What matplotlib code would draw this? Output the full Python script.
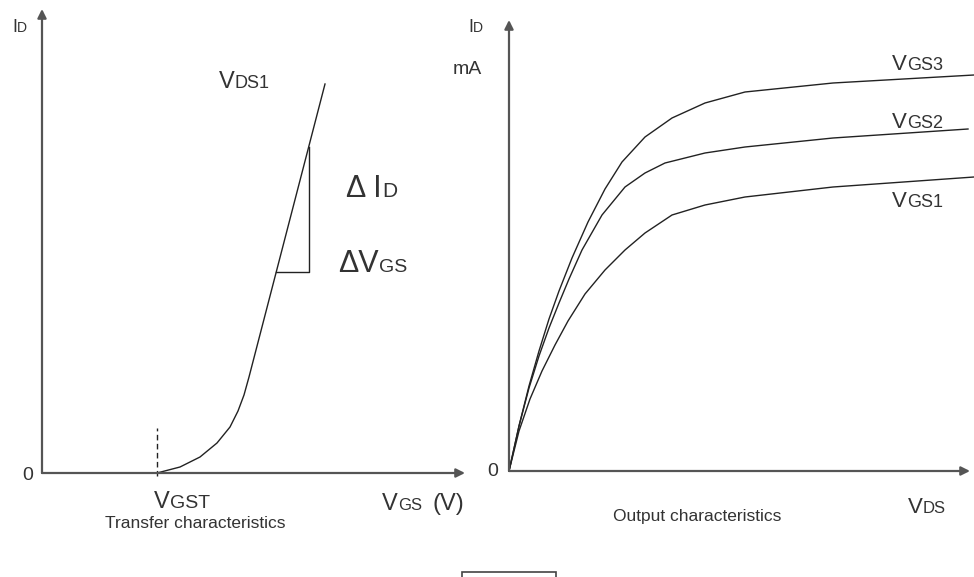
import matplotlib.pyplot as plt
from matplotlib.patches import Rectangle

plt.rcParams['font.family'] = ['Liberation Sans', 'DejaVu Sans']

LINE_C = '#222222'
AXIS_C = '#555555'
TEXT_C = '#333333'

# Transfer characteristic (left): V_GS vs I_D, arbitrary units from origin
vgs = [115, 138, 158, 175, 188, 196, 202, 207, 283]
id_transfer = [0, 6, 16, 30, 46, 62, 78, 96, 389]
vgs_threshold = 115

# slope triangle (delta V_GS, delta I_D)
tri_vgs = [234, 267, 267]
tri_id = [201, 201, 326]

# Output characteristics (right): V_DS vs I_D for three gate voltages
vds_3 = [0, 10, 20, 30, 40, 50, 63, 79, 96, 113, 136, 163, 196, 236, 324, 465]
id_3 = [0, 45, 85, 120, 152, 180, 213, 249, 282, 309, 334, 353, 368, 379, 388, 396]
vds_2 = [0, 10, 20, 30, 40, 50, 60, 73, 93, 116, 136, 156, 196, 236, 324, 459]
id_2 = [0, 45, 83, 115, 143, 168, 192, 221, 256, 284, 298, 308, 318, 324, 333, 342]
vds_1 = [0, 10, 21, 33, 46, 59, 76, 96, 116, 136, 163, 196, 236, 324, 465]
id_1 = [0, 40, 72, 100, 126, 150, 177, 201, 221, 238, 256, 266, 274, 284, 294]
curve_labels = ['VGS1', 'VGS2', 'VGS3']


def axis_arrow(ax, x_end, y_end):
    """Draw one axis as a line with a filled arrow head."""
    ax.annotate('', xy=(x_end, y_end), xytext=(0, 0),
                arrowprops=dict(arrowstyle='-|>', color=AXIS_C, lw=1.6,
                                mutation_scale=13, shrinkA=0, shrinkB=0))


def sub_label(ax, x, y, big, small, big_size, small_size, tail=None, tail_x=None):
    """Big letter(s) followed by smaller capitals on the same baseline."""
    ax.text(x, y, big, ha='right', va='baseline', fontsize=big_size, color=TEXT_C)
    ax.text(x, y, small, ha='left', va='baseline', fontsize=small_size, color=TEXT_C)
    if tail is not None:
        ax.text(tail_x, y, tail, ha='left', va='baseline', fontsize=big_size,
                color=TEXT_C)


fig = plt.figure(figsize=(9.74, 5.77), dpi=100)

# ---- left panel: transfer characteristics
ax1 = fig.add_axes([0, 0, 0.5, 1])
ax1.set_xlim(-42, 445)
ax1.set_ylim(-104, 473)
ax1.set_axis_off()

axis_arrow(ax1, 423, 0)
axis_arrow(ax1, 0, 464)
ax1.plot(vgs, id_transfer, color=LINE_C, lw=1.0, solid_joinstyle='round')
ax1.plot(tri_vgs, tri_id, color=LINE_C, lw=1.0)
ax1.plot([vgs_threshold, vgs_threshold], [-3, 45], color=LINE_C, lw=1.0,
         ls=(0, (4, 2.5)))

ax1.text(-14, -2, '0', ha='center', va='center', fontsize=14, color=TEXT_C)
sub_label(ax1, -25, 441, 'I', 'D', 13, 10)
sub_label(ax1, 193, 385, 'V', 'DS1', 17, 13)
sub_label(ax1, 340, 276, 'Δ I', 'D', 22, 15)
sub_label(ax1, 337, 201, 'ΔV', 'GS', 22, 14)
sub_label(ax1, 128, -35, 'V', 'GST', 17, 14)
sub_label(ax1, 356, -37, 'V', 'GS', 17, 12, tail='(V)', tail_x=390)
ax1.text(153, -51, 'Transfer characteristics', ha='center', va='center',
         fontsize=12.5, color=TEXT_C)

# empty caption box at the bottom edge
ax1.add_patch(Rectangle((420, -125), 94, 26, fill=False, ec='#444444',
                        lw=1.2, clip_on=False))

# ---- right panel: output characteristics
ax2 = fig.add_axes([0.5, 0, 0.5, 1])
ax2.set_xlim(-22, 465)
ax2.set_ylim(-106, 471)
ax2.set_axis_off()

axis_arrow(ax2, 461, 0)
axis_arrow(ax2, 0, 451)
for xs, ys in [(vds_1, id_1), (vds_2, id_2), (vds_3, id_3)]:
    ax2.plot(xs, ys, color=LINE_C, lw=1.0, clip_on=False,
             solid_joinstyle='round')

label_y = [264, 343, 401]
for name, ly in zip(curve_labels, label_y):
    sub_label(ax2, 398, ly, name[0], name[1:], 16, 13)

ax2.text(-16, -1, '0', ha='center', va='center', fontsize=14, color=TEXT_C)
sub_label(ax2, -36, 439, 'I', 'D', 13, 10)
ax2.text(-42, 401, 'mA', ha='center', va='center', fontsize=14, color=TEXT_C)
sub_label(ax2, 414, -42, 'V', 'DS', 16, 12)
ax2.text(188, -46, 'Output characteristics', ha='center', va='center',
         fontsize=12.5, color=TEXT_C)

fig.savefig('out.png', dpi=100)
